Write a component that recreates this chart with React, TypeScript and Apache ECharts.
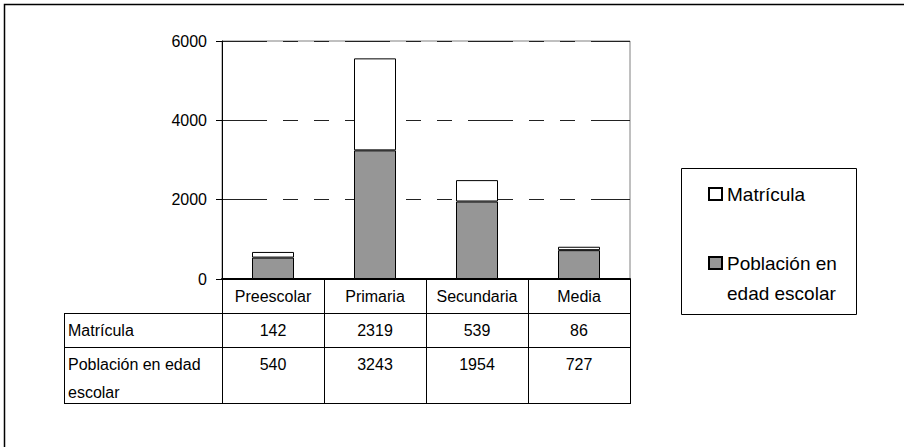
import React, { useEffect, useRef } from "react";
import * as echarts from "echarts";

const categories = ["Preescolar", "Primaria", "Secundaria", "Media"];
const matricula = [142, 2319, 539, 86];
const poblacion = [540, 3243, 1954, 727];
const seriesNames = ["Matrícula", "Población en edad escolar"];
const yMin = 0;
const yMax = 6000;
const yInterval = 2000;

const FONT = "'Liberation Sans', Arial, sans-serif";
const GL = 222;
const GR = 630;
const GT = 41;
const GB = 279;
const TABLE_LEFT = 64;
const ROW_LINES = [313, 347, 403];

export default function App() {
  const ref = useRef<HTMLDivElement>(null);

  useEffect(() => {
    if (!ref.current) return;
    const chart = echarts.init(ref.current, null, { renderer: "svg" });
    const colW = (GR - GL) / categories.length;

    const graphics: any[] = [];
    // outer frame (cropped)
    graphics.push({
      type: "polyline",
      shape: { points: [[4.5, 447], [4.5, 4.5], [904, 4.5]] },
      style: { stroke: "#000", lineWidth: 1.5, fill: "none" },
      silent: true,
    });
    // table horizontal lines
    ROW_LINES.forEach((y) => {
      graphics.push({
        type: "line",
        shape: { x1: TABLE_LEFT, y1: y + 0.5, x2: GR + 0.5, y2: y + 0.5 },
        style: { stroke: "#000", lineWidth: 1 },
        silent: true,
      });
    });
    // table left vertical
    graphics.push({
      type: "line",
      shape: { x1: TABLE_LEFT + 0.5, y1: ROW_LINES[0], x2: TABLE_LEFT + 0.5, y2: ROW_LINES[2] + 1 },
      style: { stroke: "#000", lineWidth: 1 },
      silent: true,
    });
    for (let i = 0; i <= categories.length; i++) {
      const x = Math.round(GL + i * colW) + 0.5;
      graphics.push({
        type: "line",
        shape: { x1: x, y1: GB, x2: x, y2: ROW_LINES[2] + 1 },
        style: { stroke: "#000", lineWidth: 1 },
        silent: true,
      });
    }
    // row labels
    graphics.push({
      type: "text",
      x: 68,
      y: 330,
      style: { text: "Matrícula", font: `16px ${FONT}`, fill: "#000", verticalAlign: "middle" },
      silent: true,
    });
    graphics.push({
      type: "text",
      x: 68,
      y: 350,
      style: {
        text: "Población en edad\nescolar",
        font: `16px ${FONT}`,
        lineHeight: 28,
        fill: "#000",
        verticalAlign: "top",
      },
      silent: true,
    });
    categories.forEach((_, i) => {
      const cx = GL + (i + 0.5) * colW;
      graphics.push({
        type: "text",
        x: cx,
        y: 330,
        style: {
          text: String(matricula[i]),
          font: `16px ${FONT}`,
          fill: "#000",
          align: "center",
          verticalAlign: "middle",
        },
        silent: true,
      });
      graphics.push({
        type: "text",
        x: cx,
        y: 364,
        style: {
          text: String(poblacion[i]),
          font: `16px ${FONT}`,
          fill: "#000",
          align: "center",
          verticalAlign: "middle",
        },
        silent: true,
      });
    });
    // legend box
    graphics.push({
      type: "rect",
      shape: { x: 681.5, y: 168.5, width: 175, height: 146 },
      style: { stroke: "#000", lineWidth: 1, fill: "#fff" },
      z: -1,
      silent: true,
    });

    chart.setOption({
      animation: false,
      backgroundColor: "#fff",
      textStyle: { fontFamily: FONT },
      grid: {
        left: GL,
        top: GT,
        width: GR - GL,
        height: GB - GT,
        show: true,
        borderColor: "#808080",
        borderWidth: 1,
        backgroundColor: "transparent",
      },
      legend: {
        left: 708,
        top: 179,
        orient: "vertical",
        icon: "rect",
        itemWidth: 13,
        itemHeight: 12,
        itemGap: 9,
        padding: 0,
        textStyle: { fontSize: 19, lineHeight: 30, color: "#000", fontFamily: FONT },
        formatter: (n: string) =>
          n === seriesNames[1] ? "\u00a0\nPoblación en\nedad escolar" : n,
        data: [{ name: seriesNames[0] }, { name: seriesNames[1] }],
      },
      xAxis: {
        type: "category",
        data: categories,
        axisLine: { lineStyle: { color: "#000", width: 2 } },
        axisTick: { show: false },
        axisLabel: {
          color: "#000",
          fontSize: 16,
          fontFamily: FONT,
          margin: 17,
          interval: 0,
          verticalAlign: "middle",
        },
        splitLine: { show: false },
      },
      yAxis: {
        type: "value",
        min: yMin,
        max: yMax,
        interval: yInterval,
        axisLine: { show: true, lineStyle: { color: "#000", width: 1 } },
        axisTick: { show: true, length: 6, lineStyle: { color: "#000" } },
        axisLabel: {
          color: "#000",
          fontSize: 16,
          fontFamily: FONT,
          margin: 15,
          formatter: (v: number) => String(v),
        },
        splitLine: {
          show: true,
          lineStyle: { color: "#222", width: 1, type: [45, 16, 15, 16, 15, 16] },
        },
      },
      series: [
        {
          name: seriesNames[1],
          type: "bar",
          stack: "total",
          data: poblacion,
          barWidth: 42,
          itemStyle: { color: "#969696", borderColor: "#000", borderWidth: 1 },
        },
        {
          name: seriesNames[0],
          type: "bar",
          stack: "total",
          data: matricula,
          barWidth: 42,
          itemStyle: { color: "#ffffff", borderColor: "#000", borderWidth: 1 },
        },
      ],
      graphic: graphics,
    });

    return () => chart.dispose();
  }, []);

  return (
    <div
      ref={ref}
      style={{ position: "fixed", left: 0, top: 0, width: 904, height: 447 }}
    />
  );
}
